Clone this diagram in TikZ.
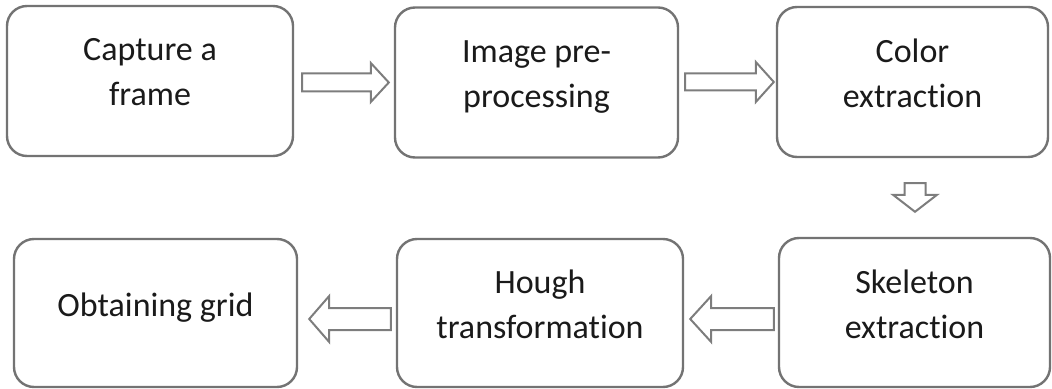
\documentclass[tikz,border=0pt]{standalone}
\usepackage{fontspec}
\setmainfont{Carlito}[Ligatures=NoCommon]
\usetikzlibrary{calc}
\definecolor{boxline}{HTML}{737373}
\definecolor{arrowline}{HTML}{7D7D7D}
\definecolor{labeltext}{HTML}{1A1A1A}
% same height and depth for every line of a label
\newcommand{\boxstrut}{\rule[-8.75pt]{0pt}{19.75pt}}
% hollow block arrow: from, to, shaft half width, head half width, head length (pt)
\newcommand{\hollowarrow}[5]{%
  \draw[flowarrow] let \p1=(#1), \p2=(#2),
      \n1={atan2(\y2-\y1,\x2-\x1)}, \n2={veclen(\x2-\x1,\y2-\y1)} in
    [shift={(\p1)}, rotate=\n1]
    (0pt,#3pt) -- ({\n2-#5pt},#3pt) -- ({\n2-#5pt},#4pt) -- ({\n2+0pt},0pt)
    -- ({\n2-#5pt},-#4pt) -- ({\n2-#5pt},-#3pt) -- (0pt,-#3pt) -- cycle;}
\begin{document}
\begin{tikzpicture}[x=0.5pt,y=-0.5pt,
    stage/.style={draw=boxline, line width=1.2pt, rounded corners=10pt,
      align=center, text=labeltext, inner sep=0pt,
      font=\fontsize{17}{22.5}\selectfont,
      minimum width=142pt, minimum height=75pt},
    flowarrow/.style={draw=arrowline, line width=1pt, line join=miter}]
  \useasboundingbox (0,0) rectangle (1052,389);
  \draw
    (150,81) node[stage, minimum width=143pt] (capture){\boxstrut Capture a\\\boxstrut frame}
    (536.5,82.5) node[stage, minimum width=141.5pt] (preproc){\boxstrut Image pre-\\\boxstrut processing}
    (912.5,82) node[stage, minimum width=135.5pt] (color){\boxstrut Color\\\boxstrut extraction}
    (914.5,312.5) node[stage, minimum width=135.5pt, minimum height=74.5pt] (skeleton){\boxstrut Skeleton\\\boxstrut extraction}
    (540,313) node[stage, minimum width=143pt, minimum height=74pt] (hough){\boxstrut Hough\\\boxstrut transformation}
    (155.5,313) node[stage, minimum width=141.5pt, minimum height=74pt] (grid){\boxstrut Obtaining grid};
  \hollowarrow{$(capture.east)+(8,1.5)$}{$(preproc.west)+(-5,0)$}{4.5}{9.75}{9}
  \hollowarrow{$(preproc.east)+(6,-0.5)$}{$(color.west)+(-2,0)$}{4.25}{10}{9}
  \hollowarrow{$(color.south)+(2.5,25)$}{$(skeleton.north)+(0.5,-25)$}{5.25}{11}{8.5}
  \hollowarrow{$(skeleton.west)+(-4,6.5)$}{$(hough.east)+(6,6)$}{5.5}{11.5}{10.5}
  \hollowarrow{$(hough.west)+(-5,6)$}{$(grid.east)+(11,6)$}{5.5}{11.5}{10}
\end{tikzpicture}
\end{document}
